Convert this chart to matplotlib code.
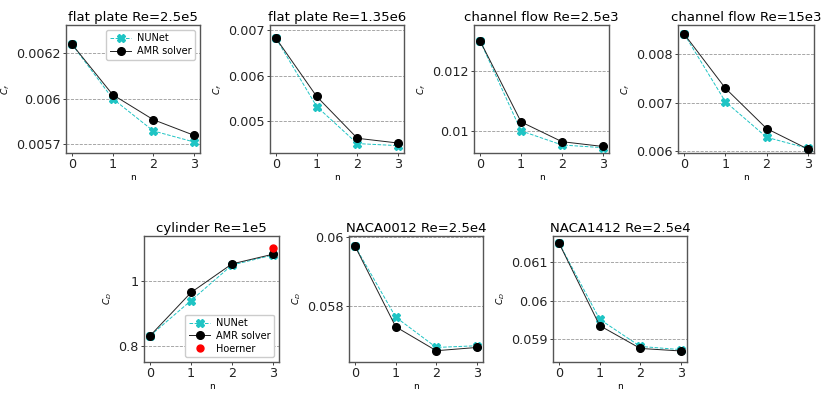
import matplotlib
matplotlib.use("Agg")
import matplotlib.pyplot as plt
from matplotlib.ticker import FuncFormatter, MultipleLocator

n = [0, 1, 2, 3]

titles = ["flat plate Re=2.5e5", "flat plate Re=1.35e6", "channel flow Re=2.5e3",
          "channel flow Re=15e3", "cylinder Re=1e5", "NACA0012 Re=2.5e4", "NACA1412 Re=2.5e4"]
ylabels = ["$C_f$", "$C_f$", "$C_f$", "$C_f$", "$C_D$", "$C_D$", "$C_D$"]

nunet_fp1 = [0.00630, 0.00600, 0.005822, 0.005761]
amr_fp1 = [0.00630, 0.006022, 0.005884, 0.005798]
nunet_fp2 = [0.00682, 0.005327, 0.004514, 0.004470]
amr_fp2 = [0.00682, 0.005547, 0.004631, 0.004527]
nunet_ch1 = [0.01300, 0.01000, 0.00953, 0.00944]
amr_ch1 = [0.01300, 0.01030, 0.00964, 0.00948]
nunet_ch2 = [0.008421, 0.00702, 0.006284, 0.006056]
amr_ch2 = [0.008421, 0.007299, 0.006465, 0.006041]
nunet_cyl = [0.831, 0.940, 1.050, 1.081]
amr_cyl = [0.831, 0.965, 1.0535, 1.0835]
hoerner_n = [3]
hoerner_cyl = [1.104]
nunet_n0012 = [0.059724, 0.057684, 0.056810, 0.056859]
amr_n0012 = [0.059724, 0.057405, 0.056716, 0.056810]
nunet_n1412 = [0.061494, 0.059514, 0.058808, 0.058725]
amr_n1412 = [0.061494, 0.059351, 0.058756, 0.058690]

nunet_all = [nunet_fp1, nunet_fp2, nunet_ch1, nunet_ch2, nunet_cyl, nunet_n0012, nunet_n1412]
amr_all = [amr_fp1, amr_fp2, amr_ch1, amr_ch2, amr_cyl, amr_n0012, amr_n1412]

ylims = [(0.0057, 0.006407), (0.004308, 0.007114), (0.009262, 0.013534), (0.005959, 0.008608),
         (0.7496, 1.14), (0.056391, 0.06002), (0.058403, 0.061683)]
ysteps = [0.00025, 0.001, 0.002, 0.001, 0.2, 0.002, 0.001]

W, H = 831, 396
fig = plt.figure(figsize=(W / 100, H / 100), dpi=100)

# pixel boxes: left, top, width, height
boxes = [(66, 25, 134, 128), (270, 25, 134, 128), (474, 25, 135, 128), (678, 25, 136, 128),
         (144, 236, 135, 126), (349, 236, 134, 126), (553, 236, 134, 126)]

fmt = FuncFormatter(lambda v, p: "{:.2g}".format(v))
spine_col = "#555555"
cyan = "#1fc4c4"

for i in range(7):
    l, t, w, h = boxes[i]
    ax = fig.add_axes([l / W, 1 - (t + h) / H, w / W, h / H])
    ax.plot(n, nunet_all[i], color=cyan, ls="--", lw=0.7, marker="X", ms=6,
            label="NUNet", zorder=3)
    ax.plot(n, amr_all[i], color="#222222", ls="-", lw=0.7, marker="o", ms=5.5,
            markerfacecolor="black", markeredgecolor="black", label="AMR solver", zorder=4)
    if i == 4:
        ax.plot(hoerner_n, hoerner_cyl, ls="none", marker="o", ms=5, color="red",
                label="Hoerner", zorder=5)
    ax.set_ylim(*ylims[i])
    ax.set_xlim(-0.15, 3.15)
    ax.set_xticks(n)
    ax.yaxis.set_major_locator(MultipleLocator(ysteps[i]))
    ax.yaxis.set_major_formatter(fmt)
    ax.grid(axis="y", ls="--", color="#999999", lw=0.6)
    ax.set_axisbelow(True)
    ax.set_title(titles[i], fontsize=9.5, pad=3)
    ax.set_xlabel("n", fontsize=6.5, labelpad=1.5)
    ax.set_ylabel(ylabels[i], fontsize=6.5, labelpad=3)
    ax.tick_params(labelsize=9.2, length=2.5, width=0.6, pad=1.2, colors="#222222")
    for s in ax.spines.values():
        s.set_color(spine_col)
        s.set_linewidth(1.0)
    leg_kw = dict(fontsize=7, framealpha=1, edgecolor="#cccccc", handlelength=2.2,
                  borderpad=0.35, labelspacing=0.3, handletextpad=0.6)
    if i == 0:
        ax.legend(loc="upper right", **leg_kw)
    if i == 4:
        ax.legend(loc="lower right", **leg_kw)

fig.savefig("out.png", dpi=100)
